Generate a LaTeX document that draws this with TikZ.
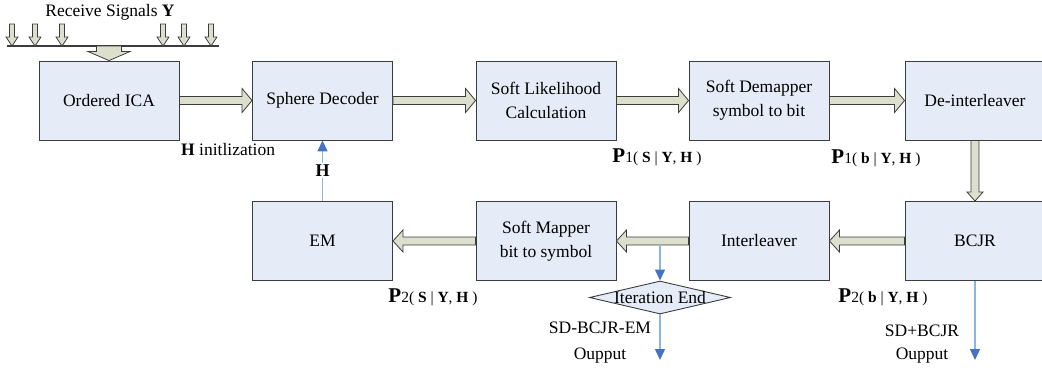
\documentclass[tikz,border=0pt]{standalone}
\usepackage{fontspec}
\setmainfont{Liberation Serif}
\usetikzlibrary{calc,arrows.meta,shapes.geometric}
\definecolor{boxfill}{HTML}{E6ECF7}
\definecolor{boxdraw}{HTML}{3C3C3C}
\definecolor{fatfill}{HTML}{DCDFCB}
\definecolor{bline}{HTML}{8DB3E2}
\definecolor{bhead}{HTML}{4472C4}
\newcommand\fatarr[5]{%
  \coordinate (fa) at (#4); \coordinate (fb) at (#5);
  \coordinate (fh) at ($(fb)!#3!(fa)$);
  \draw[fat] ($(fa)!#1!90:(fb)$) -- ($(fh)!#1!-90:(fa)$) -- ($(fh)!#2!-90:(fa)$) -- (fb) -- ($(fh)!#2!90:(fa)$) -- ($(fh)!#1!90:(fa)$) -- ($(fa)!#1!-90:(fb)$) -- cycle;}
\newcommand\plab[2]{\textbf{\fontsize{21}{21}\selectfont P}{\fontsize{15.5}{16}\selectfont #1( \textbf{#2} | \textbf{Y}, \textbf{H} )}}
\begin{document}
\begin{tikzpicture}[x=1pt,y=-1pt, font=\fontsize{17.5}{24}\selectfont,
  blk/.style={draw=boxdraw, fill=boxfill, line width=0.9pt, minimum width=140pt, minimum height=79pt, inner sep=0pt, align=center},
  fat/.style={draw=boxdraw, fill=fatfill, line width=0.8pt, line join=miter},
  bluearr/.style={draw=bline, line width=1.4pt, -{Triangle[length=11pt,width=10pt,color=bhead]}},
  lbl/.style={inner sep=0pt}]
\useasboundingbox (0,0) rectangle (1042,370);
% blocks
\node[blk] (ica) at (109,100.5) {Ordered ICA};
\node[blk] (sd) at (322.5,100.5) {Sphere Decoder};
\node[blk] (sl) at (546,100.5) {Soft Likelihood\\Calculation};
\node[blk] (sdm) at (759,100.5) {Soft Demapper\\symbol to bit};
\node[blk] (dei) at (975,100.5) {De-interleaver};
\node[blk] (em) at (322.5,241) {EM};
\node[blk] (sm) at (546,241) {Soft Mapper\\bit to symbol};
\node[blk] (il) at (759,241) {Interleaver};
\node[blk] (bcjr) at (975,241) {BCJR};
\node[diamond, draw=boxdraw, fill=boxfill, line width=0.9pt, minimum width=141pt, minimum height=33pt, inner sep=0pt] (ie) at (660,297.5) {};
\node[lbl] (ietxt) at (ie) {Iteration End};
% receive signals
\node[lbl] (rs) at (110,12) {Receive Signals \textbf{Y}};
\coordinate (bl) at (7,46); \coordinate (br) at (219,46);
\draw[line width=1.1pt, draw=boxdraw] (bl) -- (br);
\foreach \x [count=\i] in {12,35,62,163,184,211} {
  \coordinate (st\i) at (\x,24); \coordinate (se\i) at (\x,46);
  \fatarr{2.5pt}{6pt}{9pt}{st\i}{se\i}
}
\coordinate (bigs) at (ica.north |- bl);
\fatarr{12.5pt}{21pt}{9pt}{bigs}{ica.north}
% fat connectors
\fatarr{4pt}{12pt}{10pt}{ica.east}{sd.west}
\fatarr{4pt}{12pt}{10pt}{sd.east}{sl.west}
\fatarr{4pt}{12pt}{10pt}{sl.east}{sdm.west}
\fatarr{4pt}{12pt}{10pt}{sdm.east}{dei.west}
\fatarr{4pt}{8pt}{9pt}{dei.south}{bcjr.north}
\fatarr{4pt}{11pt}{10pt}{bcjr.west}{il.east}
\fatarr{4pt}{11pt}{10pt}{il.west}{sm.east}
\fatarr{4pt}{11pt}{10pt}{sm.west}{em.east}
% blue connectors
\coordinate (tap) at (660,244);
\coordinate (ieout) at (660,360);
\coordinate (bout) at (975,360);
\draw[bluearr] (tap) -- (ie.north);
\draw[bluearr] (ie.south) -- (ieout);
\draw[bluearr] (bcjr.south) -- (bout);
\draw[bluearr] (em.north) -- node[fill=white, inner sep=1.5pt, font=\fontsize{18}{18}\selectfont\bfseries] (hl) {H} (sd.south);
% labels
\node[lbl, anchor=west] (hinit) at (181,150) {\textbf{H} initlization};
\node[lbl] (p1s) at (657,157) {\plab{1}{S}};
\node[lbl] (p1b) at (876,158) {\plab{1}{b}};
\node[lbl] (p2s) at (433,297) {\plab{2}{S}};
\node[lbl] (p2b) at (883,297) {\plab{2}{b}};
\node[lbl, align=center, font=\fontsize{17.5}{26}\selectfont] (o1) at (600,343) {SD-BCJR-EM\\Oupput};
\node[lbl, align=center, font=\fontsize{17.5}{23}\selectfont] (o2) at (922,344) {SD+BCJR\\Oupput};
\end{tikzpicture}
\end{document}
